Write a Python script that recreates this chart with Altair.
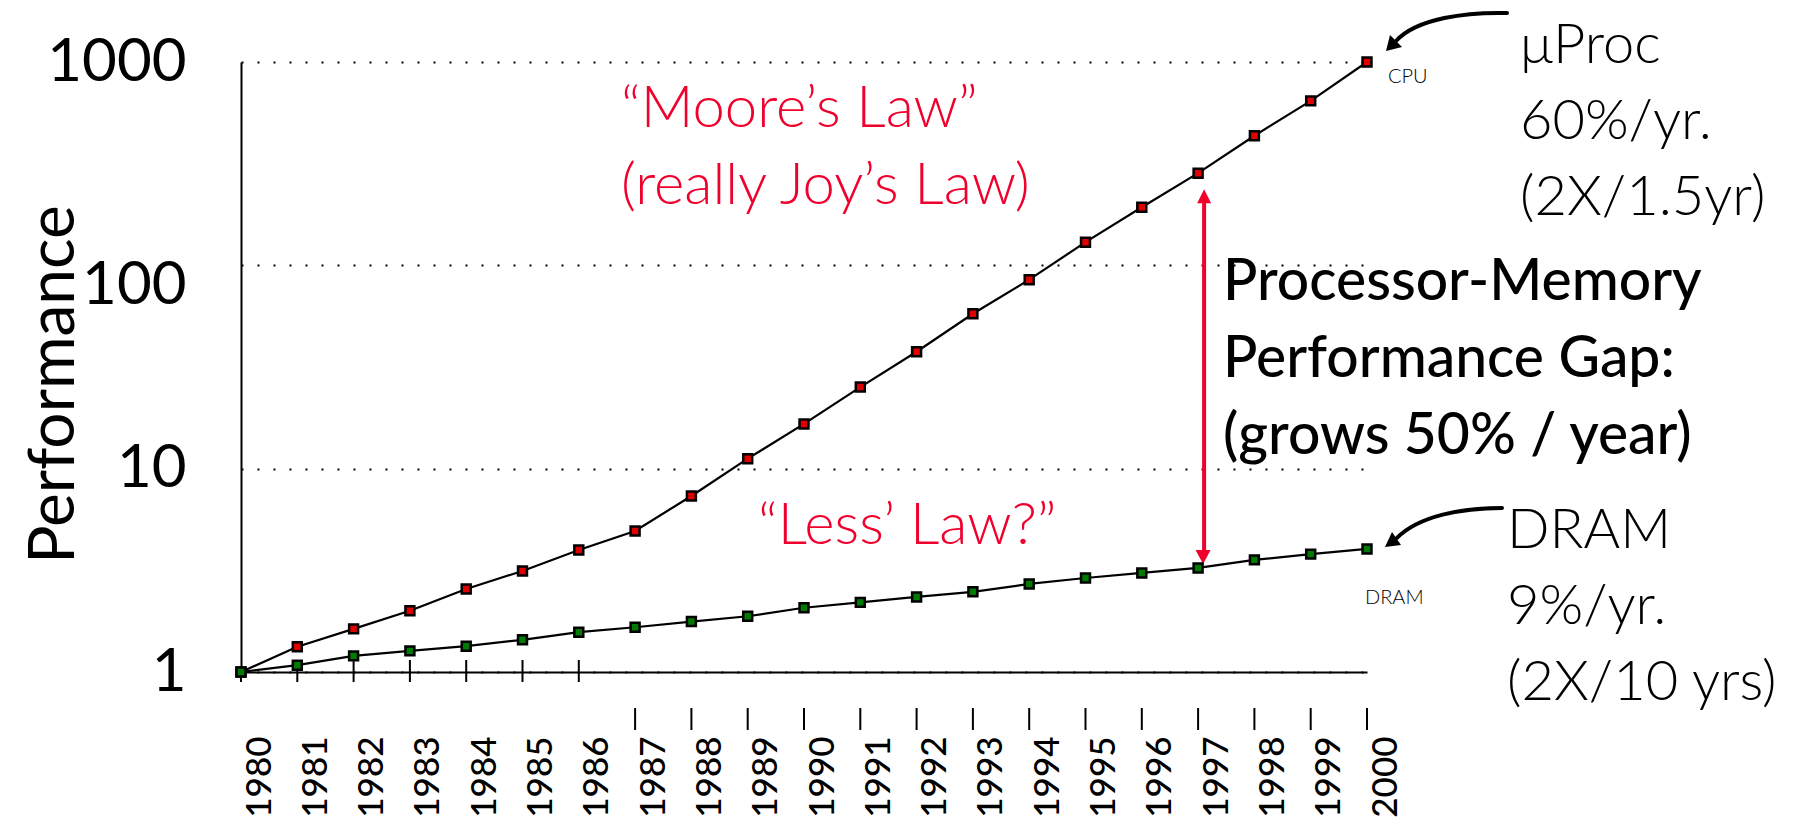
import altair as alt
import pandas as pd

# ---------------- data ----------------
years = list(range(1980, 2001))
cpu_perf = [1, 1.33, 1.63, 2.0, 2.56, 3.14, 3.98, 4.94, 7.34, 11.2, 16.6,
            25.2, 37.6, 57.8, 85.0, 130, 193, 284, 434, 644, 1000]
dram_perf = [1, 1.08, 1.2, 1.27, 1.34, 1.44, 1.57, 1.66, 1.77, 1.88, 2.07,
             2.2, 2.34, 2.48, 2.71, 2.9, 3.07, 3.25, 3.56, 3.8, 4.03]
series_names = ["CPU", "DRAM"]
y_ticks = [1, 10, 100, 1000]
gap_year = 1997

moore_text = ["\u201cMoore\u2019s Law\u201d", "(really Joy\u2019s Law)"]
less_text = ["\u201cLess\u2019 Law?\u201d"]
gap_text = ["Processor-Memory", "Performance Gap:", "(grows 50% / year)"]
cpu_text = ["\u03bcProc", "60%/yr.", "(2X/1.5yr)"]
dram_text = ["DRAM", "9%/yr.", "(2X/10 yrs)"]

# ---------------- styles ----------------
FONT = "Lato"
RED_TXT = "#F0002D"
RED_PT = "#E00000"
GREEN_PT = "#007A00"
W, H = 1126, 610

long_df = pd.DataFrame({
    "year": years * 2,
    "value": cpu_perf + dram_perf,
    "series": ["CPU"] * len(years) + ["DRAM"] * len(years),
})
wide_df = pd.DataFrame({"year": years, "cpu": cpu_perf, "dram": dram_perf})

xscale = alt.Scale(domain=[years[0], years[-1]], nice=False, zero=False)
yscale = alt.Scale(type="log", domain=[1, 1000], nice=False)

x_enc = alt.X("year:Q", scale=xscale, axis=alt.Axis(
    values=years, format="d", labelAngle=-90, labelAlign="right",
    labelBaseline="middle", labelFontSize=35, labelFont=FONT,
    labelFontWeight=500,
    labelColor="black", labelPadding=64, labelOffset=18, ticks=False,
    tickSize=0, domainColor="black", domainWidth=2, grid=False, title=None,
    labelFlush=False, labelOverlap=False))

y_enc = alt.Y("value:Q", scale=yscale, axis=alt.Axis(
    values=y_ticks, format="d", labelFontSize=60, labelFont=FONT,
    labelColor="black", labelPadding=55, ticks=False, tickSize=0,
    labelOffset=alt.condition("datum.value == 100", alt.value(20), alt.value(0)),
    domainColor="black", domainWidth=2, grid=True, gridColor="black",
    gridDash=[2, 14], gridWidth=2, title="Performance", titleFontSize=64,
    titleFont=FONT, titleFontWeight="normal", titleColor="black",
    titleAngle=-90, titleX=-168, titleY=322, titleAlign="center",
    titleBaseline="alphabetic"))

lines = alt.Chart(long_df).mark_line(color="black", strokeWidth=2.2).encode(
    x=x_enc, y=y_enc, detail="series:N")

points = alt.Chart(long_df).mark_point(
    shape="square", filled=True, size=80, stroke="black", strokeWidth=2.5,
    opacity=1).encode(
    x="year:Q", y="value:Q",
    fill=alt.Fill("series:N", scale=alt.Scale(domain=series_names,
                                              range=[RED_PT, GREEN_PT]),
                  legend=None))

gap = alt.Chart(wide_df).transform_filter(alt.datum.year == gap_year)
gap_rule = gap.mark_rule(color=RED_TXT, strokeWidth=4, xOffset=6,
                         x2Offset=6, yOffset=28, y2Offset=-14).encode(
    x="year:Q", y="cpu:Q", y2="dram:Q")
gap_head_top = gap.mark_point(shape="M0,0L-7,14L7,14Z", size=4, filled=True,
                              color=RED_TXT, opacity=1, xOffset=6,
                              yOffset=16).encode(x="year:Q", y="cpu:Q")
gap_head_bot = gap.mark_point(shape="M0,0L-7.5,-14L7.5,-14Z", size=4,
                              filled=True, color=RED_TXT, opacity=1,
                              xOffset=5, yOffset=-4).encode(x="year:Q", y="dram:Q")

last = alt.Chart(wide_df).transform_filter(alt.datum.year == years[-1])
cpu_curve = last.mark_point(shape="M140,-49 C100,-50 50,-44 29,-21", size=4,
                            filled=False, color="black", strokeWidth=4,
                            strokeCap="round", opacity=1).encode(
    x="year:Q", y="cpu:Q")
cpu_head = last.mark_point(shape="M19,-11 L35,-15 L23,-27 Z", size=4,
                           filled=True, color="black", opacity=1).encode(
    x="year:Q", y="cpu:Q")
dram_curve = last.mark_point(shape="M135,-41 C95,-41 52,-33 30,-11", size=4,
                             filled=False, color="black", strokeWidth=4,
                             strokeCap="round", opacity=1).encode(
    x="year:Q", y="dram:Q")
dram_head = last.mark_point(shape="M18,-2 L34,-4 L25,-17 Z", size=4,
                            filled=True, color="black", opacity=1).encode(
    x="year:Q", y="dram:Q")

tick_base = alt.Chart(pd.DataFrame({"year": years}))
tick0 = tick_base.transform_filter(alt.datum.year == years[0]).mark_rule(
    color="black", strokeWidth=2).encode(
    x="year:Q", y=alt.value(H), y2=alt.value(H + 10))
tick1 = tick_base.transform_filter(
    alt.FieldRangePredicate(field="year", range=[1981, 1986])).mark_rule(
    color="black", strokeWidth=2).encode(
    x="year:Q", y=alt.value(H - 12), y2=alt.value(H + 10))
tick2 = tick_base.transform_filter(alt.datum.year >= 1987).mark_rule(
    color="black", strokeWidth=2).encode(
    x="year:Q", y=alt.value(H + 36), y2=alt.value(H + 58))

one = pd.DataFrame({"k": [0]})


def text_block(lines_, x, y, size, color, weight, lh):
    layers = []
    for i, t in enumerate(lines_):
        layers.append(alt.Chart(one).mark_text(
            text=t, font=FONT, fontSize=size, color=color, fontWeight=weight,
            align="left", baseline="alphabetic").encode(
            x=alt.value(x), y=alt.value(y + i * lh)))
    return layers


texts = []
texts += text_block(moore_text, 380, 65, 58, RED_TXT, 300, 77)
texts += text_block(less_text, 517, 482, 58, RED_TXT, 300, 77)
texts += text_block(gap_text, 982, 238, 57, "black", 500, 77)
texts += text_block(cpu_text, 1279, 1, 56, "black", 300, 76)
texts += text_block(dram_text, 1266, 486, 56, "black", 300, 76)
texts += text_block(["CPU"], 1147, 21, 20, "black", 300, 0)
texts += text_block(["DRAM"], 1124, 542, 20, "black", 300, 0)

chart = alt.layer(
    lines, tick0, tick1, tick2, gap_rule, gap_head_top, gap_head_bot,
    points, cpu_curve, cpu_head, dram_curve, dram_head, *texts
).properties(
    width=W, height=H,
    autosize=alt.AutoSizeParams(type="none"),
    padding={"left": 233, "top": 54, "right": 426, "bottom": 150},
).configure_view(stroke=None)

chart.save("out.html", embed_options={"renderer": "svg", "actions": False})
